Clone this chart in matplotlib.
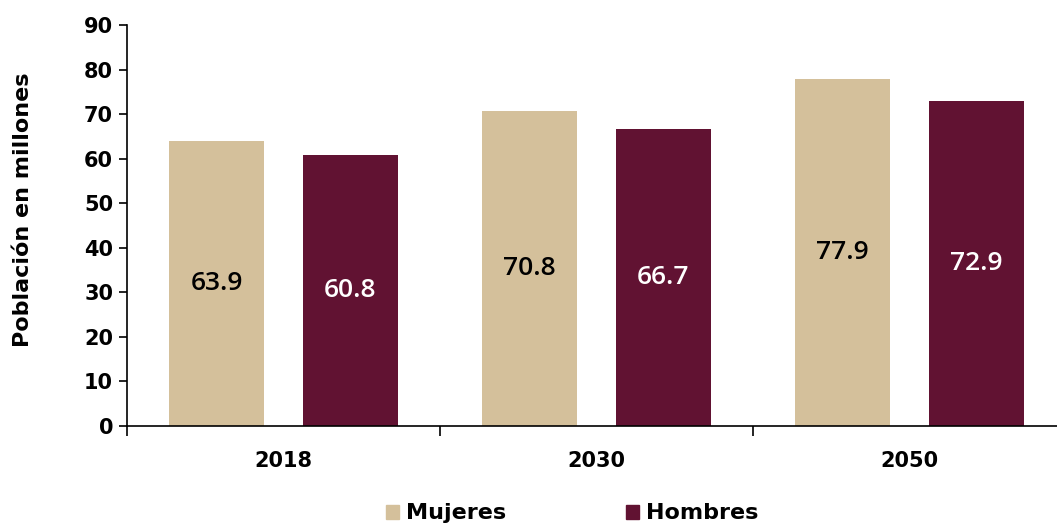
import matplotlib.pyplot as plt
import numpy as np
from matplotlib.patches import Patch

anios = ['2018', '2030', '2050']
mujeres = [63.9, 70.8, 77.9]
hombres = [60.8, 66.7, 72.9]

color_muj = '#D4C09B'
color_hom = '#611232'

plt.rcParams['font.family'] = ['DejaVu Sans']

fig = plt.figure(figsize=(10.57, 5.25), dpi=100)
ax = fig.add_axes([127 / 1057, 99 / 525, 939 / 1057, 401 / 525])

x = np.arange(len(anios))
ancho = 0.303
desp = 0.214
b1 = ax.bar(x - desp, mujeres, ancho, color=color_muj)
b2 = ax.bar(x + desp, hombres, ancho, color=color_hom)

for barras, vals, col in [(b1, mujeres, 'black'), (b2, hombres, 'white')]:
    for b, v in zip(barras, vals):
        ax.text(b.get_x() + b.get_width() / 2, v / 2, f'{v:.1f}',
                ha='center', va='center', fontsize=19, color=col,
                family='Open Sans', fontweight='semibold')

ax.set_xlim(-0.5, 2.5)
ax.set_ylim(0, 90)
ax.set_yticks(range(0, 91, 10))
ax.set_yticklabels([str(v) for v in range(0, 91, 10)], fontsize=15, fontweight='bold')

# etiquetas de año centradas, marcas en los límites de cada grupo
ax.set_xticks([-0.5, 0.5, 1.5, 2.5])
ax.set_xticklabels([])
ax.set_xticks(x, minor=True)
ax.set_xticklabels(anios, minor=True, fontsize=15, fontweight='bold')
ax.tick_params(axis='x', which='minor', length=0, pad=18)
ax.tick_params(axis='x', which='major', length=7, width=1.2, direction='out')
ax.tick_params(axis='y', length=6, width=1.2, pad=4)

for s in ['top', 'right']:
    ax.spines[s].set_visible(False)
for s in ['left', 'bottom']:
    ax.spines[s].set_linewidth(1.2)

ax.set_ylabel('Población en millones', fontsize=16, fontweight='bold')
ax.yaxis.set_label_coords(-94 / 939, 0.54)

handles = [Patch(color=color_muj, label='Mujeres'), Patch(color=color_hom, label='Hombres')]
fig.legend(handles=handles, loc='center', bbox_to_anchor=(572 / 1057, 0.022), ncol=2,
           frameon=False, handlelength=0.6, handleheight=0.6, handletextpad=0.3,
           columnspacing=5.4, prop={'size': 16, 'weight': 'bold'})

fig.savefig('out.png', dpi=100)
